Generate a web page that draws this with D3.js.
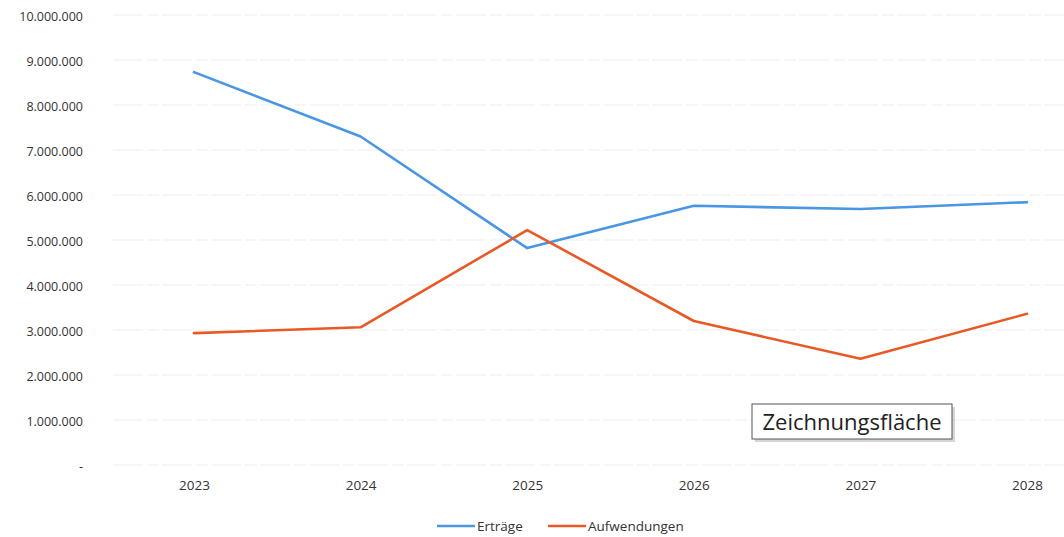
<!DOCTYPE html>
<html><head><meta charset="utf-8">
<script src="https://cdn.jsdelivr.net/npm/d3@7"></script>
<style>
html,body{margin:0;padding:0;background:#fff;}
svg{display:block;}
</style></head>
<body>
<svg id="chart" width="1064" height="537"></svg>
<script>
const years = ["2023","2024","2025","2026","2027","2028"];
const ertraege = [8730000, 7300000, 4820000, 5760000, 5690000, 5840000];
const aufwendungen = [2930000, 3060000, 5220000, 3200000, 2360000, 3360000];
const yTicks = [0,1000000,2000000,3000000,4000000,5000000,6000000,7000000,8000000,9000000,10000000];
const seriesNames = ["Erträge","Aufwendungen"];
const seriesColors = ["#4896e4","#e85a25"];

const svg = d3.select("#chart");
const x = d3.scalePoint().domain(years).range([194, 1027]);
const y = d3.scaleLinear().domain([0, 10000000]).range([465, 15]);
const fmt = v => v === 0 ? "-" : d3.format(",")(v).replace(/,/g, ".");

// gridlines
svg.append("g").selectAll("line").data(yTicks).join("line")
  .attr("x1", 113).attr("x2", 1064)
  .attr("y1", d => y(d)).attr("y2", d => y(d))
  .attr("stroke", "#ededed").attr("stroke-width", 1).attr("stroke-dasharray", "30,4,12,3");

// y axis labels
const yAxis = d3.axisLeft(y).tickValues(yTicks).tickFormat(fmt).tickSize(0).tickPadding(0);
const gy = svg.append("g").attr("transform", "translate(83,1)").call(yAxis);
gy.select(".domain").remove();
gy.selectAll("text").attr("font-family", "Open Sans, sans-serif").attr("font-size", 12.5).attr("fill", "#333");

// x axis labels
const xAxis = d3.axisBottom(x).tickSize(0).tickPadding(0);
const gx = svg.append("g").attr("transform", "translate(0,480)").call(xAxis);
gx.select(".domain").remove();
gx.selectAll("text").attr("font-family", "Open Sans, sans-serif").attr("font-size", 13.5).attr("fill", "#333");

// lines
const line = d3.line().x((d,i) => x(years[i])).y(d => y(d));
[ertraege, aufwendungen].forEach((s, k) => {
  svg.append("path").datum(s).attr("d", line)
    .attr("fill", "none").attr("stroke", seriesColors[k]).attr("stroke-width", 2.6)
    .attr("stroke-linejoin", "round").attr("stroke-linecap", "round");
});

// legend
const legendX = [437, 548];
seriesNames.forEach((n, k) => {
  const g = svg.append("g").attr("transform", `translate(${legendX[k]},526)`);
  g.append("line").attr("x1", 0).attr("x2", 38).attr("y1", 0).attr("y2", 0)
    .attr("stroke", seriesColors[k]).attr("stroke-width", 2.6);
  g.append("text").attr("x", 40).attr("y", 5).text(n)
    .attr("font-family", "Open Sans, sans-serif").attr("font-size", 13.5).attr("fill", "#333");
});

// "Zeichnungsfläche" tooltip box
const tip = svg.append("g").attr("transform", "translate(752,404)");
tip.append("rect").attr("x", 3).attr("y", 3).attr("width", 200).attr("height", 35).attr("fill", "#bbb").attr("opacity", 0.6);
tip.append("rect").attr("x", 0).attr("y", 0).attr("width", 200).attr("height", 35).attr("fill", "#fff").attr("stroke", "#555").attr("stroke-width", 1);
tip.append("text").attr("x", 100).attr("y", 26).attr("text-anchor", "middle").text("Zeichnungsfläche")
  .attr("font-family", "Open Sans, sans-serif").attr("font-size", 22).attr("fill", "#222");
</script>
</body></html>
